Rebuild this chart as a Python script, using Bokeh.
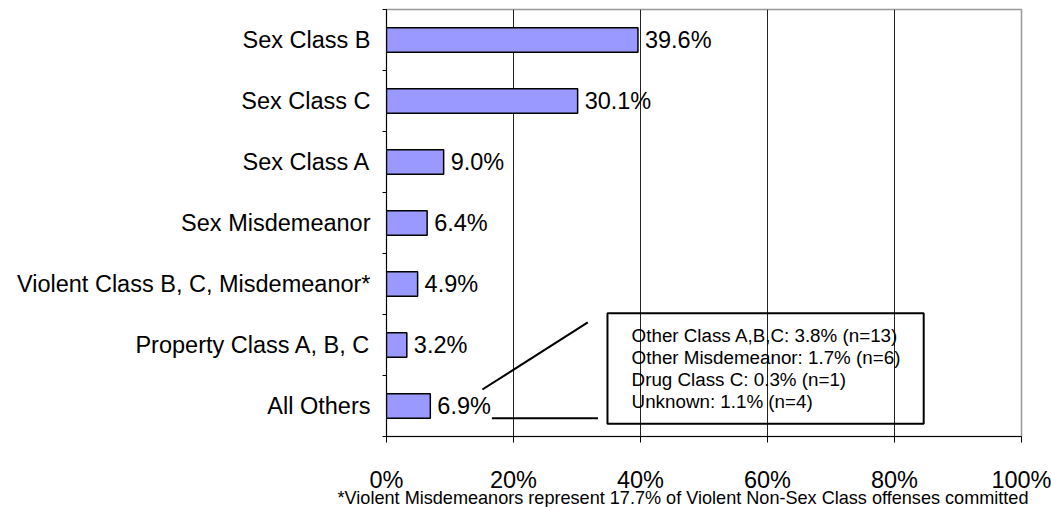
from bokeh.plotting import figure
from bokeh.models import (ColumnDataSource, Range1d, FixedTicker,
                          LabelSet, Label, BoxAnnotation, LinearAxis, Title)
from bokeh.core.properties import value
from bokeh.embed import file_html
from bokeh.resources import INLINE

# ---------------- data ----------------
categories = ["Sex Class B", "Sex Class C", "Sex Class A", "Sex Misdemeanor",
              "Violent Class B, C, Misdemeanor*", "Property Class A, B, C", "All Others"]
values = [39.6, 30.1, 9.0, 6.4, 4.9, 3.2, 6.9]
value_labels = [f"{v:.1f}%" for v in values]
x_ticks = [0, 20, 40, 60, 80, 100]
x_tick_labels = ["0%", "20%", "40%", "60%", "80%", "100%"]
other_lines = ["Other Class A,B,C: 3.8% (n=13)",
               "Other Misdemeanor: 1.7% (n=6)",
               "Drug Class C: 0.3% (n=1)",
               "Unknown: 1.1% (n=4)"]
footnote = "*Violent Misdemeanors represent 17.7% of Violent Non-Sex Class offenses committed"

FONT = "Liberation Sans"
N = len(categories)
# category slots: first category at the top
ypos = [N - i - 0.5 for i in range(N)]

src = ColumnDataSource(dict(y=ypos, val=values, lab=value_labels))

p = figure(width=1051, height=507, output_backend="svg", toolbar_location=None,
           y_range=Range1d(0, N), x_range=Range1d(0, 100), y_axis_type=None,
           min_border_left=386, min_border_right=30, min_border_top=9, min_border_bottom=71)
p.background_fill_color = "white"
p.border_fill_color = "white"
p.outline_line_color = "#999999"
p.outline_line_width = 1.5

p.hbar(y="y", right="val", left=0, height=0.4, source=src,
       fill_color="#9999FF", line_color="black", line_width=1.5)

p.add_layout(LabelSet(x="val", y="y", text="lab", source=src, x_offset=7,
                      text_baseline="middle", text_align="left",
                      text_font=value(FONT), text_font_size="23.5px", text_color="black"))

# grid
p.ygrid.grid_line_color = None
p.xgrid.grid_line_color = "#222222"
p.xgrid.grid_line_width = 1
p.xgrid.ticker = FixedTicker(ticks=x_ticks)

# x axis
p.xaxis.ticker = FixedTicker(ticks=x_ticks)
p.xaxis.major_label_overrides = {t: l for t, l in zip(x_ticks, x_tick_labels)}
p.xaxis.major_tick_in = 0
p.xaxis.major_tick_out = 6
p.xaxis.minor_tick_line_color = None
p.xaxis.axis_line_color = "black"
p.xaxis.major_tick_line_color = "black"
p.xaxis.major_label_text_font = FONT
p.xaxis.major_label_text_font_size = "23.5px"
p.xaxis.major_label_text_color = "black"
p.xaxis.major_label_standoff = 24

# y axis: category labels at slot centres, small ticks at slot boundaries
label_axis = LinearAxis(ticker=FixedTicker(ticks=ypos, minor_ticks=list(range(N + 1))),
                        major_label_overrides={y: c for y, c in zip(ypos, categories)},
                        axis_line_color="black", major_tick_line_color=None,
                        minor_tick_line_color="black", minor_tick_in=0, minor_tick_out=4,
                        major_tick_in=0, major_tick_out=0, major_label_standoff=12,
                        major_label_text_font=FONT, major_label_text_font_size="23.5px",
                        major_label_text_color="black")
p.add_layout(label_axis, "left")

# callout box for "All Others" breakdown
box_l, box_r, box_b, box_t = 34.8, 84.6, 0.21, 2.02
p.add_layout(BoxAnnotation(left=box_l, right=box_r, bottom=box_b, top=box_t,
                           fill_color=None, fill_alpha=0, line_color="black",
                           line_alpha=1.0, line_width=2))
line_step = 0.361
mid = (box_b + box_t) / 2
for k, txt in enumerate(other_lines):
    p.add_layout(Label(x=38.6, y=mid + (1.5 - k) * line_step, text=txt,
                       text_baseline="middle", text_align="left",
                       text_font=FONT, text_font_size="18.8px", text_color="black"))
p.line(x=[15.1, 31.7], y=[0.77, 1.87], line_color="black", line_width=2)
p.line(x=[16.6, 33.3], y=[0.30, 0.30], line_color="black", line_width=2)

# footnote
try:
    note = Title(text=footnote, align="right", offset=-7, standoff=-19,
                 text_font=FONT, text_font_size="18.1px", text_font_style="normal",
                 text_color="black")
except Exception:
    note = Title(text=footnote, align="right", offset=-7, standoff=0,
                 text_font=FONT, text_font_size="18.1px", text_font_style="normal",
                 text_color="black")
p.add_layout(note, "below")

open("out.html", "w").write(file_html(p, INLINE))
